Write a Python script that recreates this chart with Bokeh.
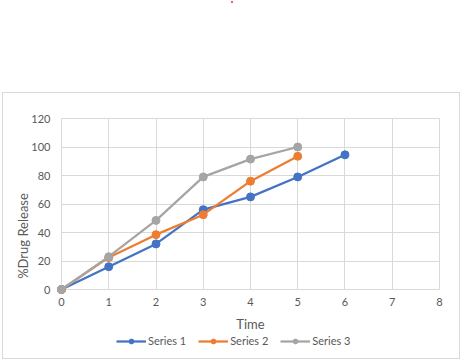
from bokeh.plotting import figure
from bokeh.models import Range1d, Legend, LegendItem, FixedTicker, InlineStyleSheet
from bokeh.embed import file_html
from bokeh.resources import INLINE

time = [0, 1, 2, 3, 4, 5, 6]
series1 = [0, 16, 32, 56, 65, 79, 94.5]
series2 = [0, 22.5, 38.5, 52.5, 76, 93.5]
series3 = [0, 23, 48.5, 79, 91.5, 100]
names = ["Series 1", "Series 2", "Series 3"]
colors = ["#4472C4", "#ED7D31", "#A5A5A5"]
x_ticks = [0, 1, 2, 3, 4, 5, 6, 7, 8]
y_ticks = [0, 20, 40, 60, 80, 100, 120]

FONT = "Lato"

p = figure(width=464, height=363, output_backend="svg", toolbar_location=None,
           x_range=Range1d(-0.106, 8.106), y_range=Range1d(-48.42, 123.51),
           min_border_left=56, min_border_right=20, min_border_top=113, min_border_bottom=5)
p.outline_line_color = None
p.background_fill_color = "white"
p.border_fill_color = "white"

for ax in (p.xaxis[0], p.yaxis[0]):
    ax.axis_line_color = None
    ax.major_tick_line_color = None
    ax.minor_tick_line_color = None
    ax.major_tick_out = 0
    ax.major_tick_in = 0
    ax.minor_tick_out = 0
    ax.minor_tick_in = 0
    ax.major_label_text_font = FONT
    ax.major_label_text_font_size = "11px"
    ax.major_label_text_color = "#595959"
    ax.axis_label_text_font = FONT
    ax.axis_label_text_font_size = "13px"
    ax.axis_label_text_color = "#595959"
    ax.axis_label_text_font_style = "normal"

p.xaxis.ticker = FixedTicker(ticks=x_ticks)
p.yaxis.ticker = FixedTicker(ticks=y_ticks)
p.xaxis.bounds = (0, 8)
p.yaxis.bounds = (0, 120)
p.xaxis.fixed_location = 0
p.xaxis.axis_label = "Time"
p.yaxis.axis_label = "%Drug Release"
p.xaxis.major_label_standoff = 8
p.yaxis.major_label_standoff = 6
p.xaxis.axis_label_standoff = 7
p.yaxis.axis_label_standoff = -3

p.xgrid.ticker = FixedTicker(ticks=x_ticks)
p.ygrid.ticker = FixedTicker(ticks=y_ticks)
p.xgrid.bounds = (0, 8)
p.ygrid.bounds = (0, 120)
p.xgrid.cross_bounds = (0, 120)
p.ygrid.cross_bounds = (0, 8)
p.xgrid.grid_line_color = "#D9D9D9"
p.ygrid.grid_line_color = "#D9D9D9"

items = []
for name, ys, c in zip(names, [series1, series2, series3], colors):
    xs = time[:len(ys)]
    l = p.line(xs, ys, line_color=c, line_width=2.25)
    m = p.scatter(xs, ys, size=8, fill_color=c, line_color=c)
    items.append(LegendItem(label=name, renderers=[l, m]))

legend = Legend(items=items, orientation="horizontal", location=(60, 11),
                label_text_font=FONT, label_text_font_size="11px", label_text_color="#595959",
                glyph_width=30, glyph_height=12, spacing=12, label_standoff=2,
                padding=0, margin=0, border_line_color=None, background_fill_alpha=0)
p.add_layout(legend, "center")

p.stylesheets = [InlineStyleSheet(css="""
:host::after { content: ""; position: absolute; left: 2px; top: 92px; width: 458px; height: 267px;
  border: 1px solid #D9D9D9; pointer-events: none; box-sizing: border-box; }
:host::before { content: ""; position: absolute; left: 231px; top: 1px; width: 2px; height: 2px;
  background: #E06666; pointer-events: none; z-index: 5; }
""")]

open("out.html", "w").write(file_html(p, INLINE))
